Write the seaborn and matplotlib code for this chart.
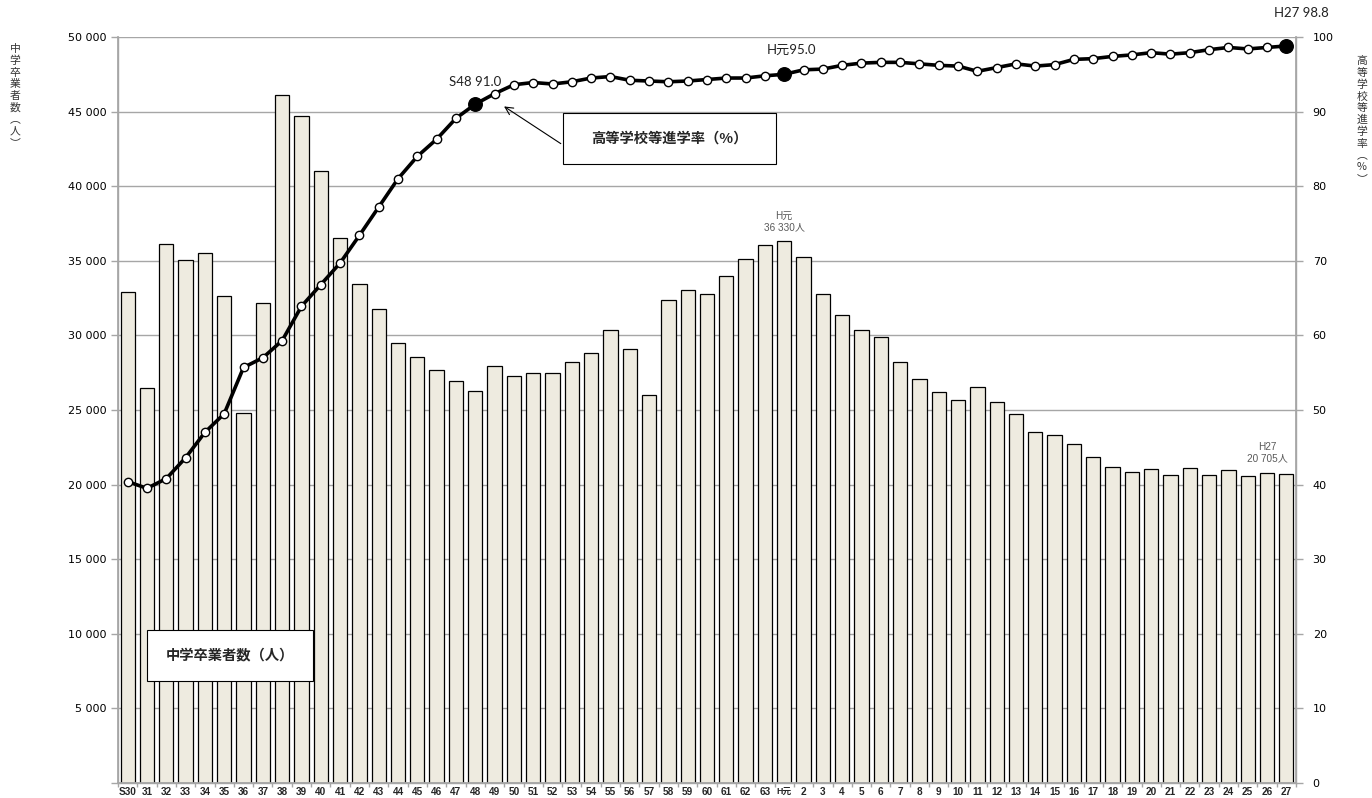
import numpy as np
import pandas as pd
import matplotlib
matplotlib.use("Agg")
import matplotlib.pyplot as plt
import seaborn as sns
from matplotlib.ticker import FuncFormatter, MultipleLocator, FixedLocator
from matplotlib.patches import Rectangle

# ---------------- data ----------------
years = ["S30", "31", "32", "33", "34", "35", "36", "37", "38", "39",
         "40", "41", "42", "43", "44", "45", "46", "47", "48", "49",
         "50", "51", "52", "53", "54", "55", "56", "57", "58", "59",
         "60", "61", "62", "63", "H元", "2", "3", "4", "5", "6",
         "7", "8", "9", "10", "11", "12", "13", "14", "15", "16",
         "17", "18", "19", "20", "21", "22", "23", "24", "25", "26", "27"]

graduates = [32900, 26500, 36100, 35050, 35550, 32650, 24800, 32200, 46100, 44700,
             41050, 36500, 33450, 31800, 29500, 28550, 27650, 26950, 26250, 27950,
             27300, 27450, 27500, 28250, 28800, 30350, 29100, 26000, 32400, 33050,
             32750, 34000, 35100, 36050, 36330, 35250, 32750, 31350, 30350, 29900,
             28200, 27100, 26200, 25700, 26550, 25550, 24700, 23550, 23350, 22750,
             21850, 21200, 20850, 21050, 20650, 21100, 20650, 21000, 20550, 20800, 20705]

rate = [40.4, 39.5, 40.8, 43.6, 47.0, 49.5, 55.7, 57.0, 59.3, 63.9,
        66.8, 69.7, 73.4, 77.2, 81.0, 84.0, 86.3, 89.1, 91.0, 92.4,
        93.6, 93.9, 93.7, 94.0, 94.5, 94.7, 94.2, 94.1, 94.0, 94.1,
        94.3, 94.5, 94.5, 94.8, 95.0, 95.6, 95.7, 96.2, 96.5, 96.6,
        96.6, 96.4, 96.2, 96.1, 95.4, 95.9, 96.4, 96.1, 96.3, 97.0,
        97.1, 97.4, 97.6, 97.9, 97.7, 97.9, 98.3, 98.6, 98.4, 98.6, 98.8]

highlight_years = ["48", "H元", "27"]
highlight_labels = ["S48 91.0", "H元95.0", "H27 98.8"]

# ---------------- style ----------------
sns.set_theme(style="white")
CJK = "Noto Sans CJK JP"
plt.rcParams["font.family"] = ["DejaVu Sans", CJK]

W, H = 1372, 798
fig = plt.figure(figsize=(W / 100, H / 100), dpi=100)
L, R, T, B = 118, 1296, 37, 783
ax = fig.add_axes([L / W, (H - B) / H, (R - L) / W, (B - T) / H])

df = pd.DataFrame({"year": years, "graduates": graduates, "rate": rate})
n = len(df)

sns.barplot(data=df, x="year", y="graduates", color="#EEEBE0", saturation=1,
            edgecolor="black", linewidth=0.9, width=0.74, ax=ax)

ax.set_xlim(-0.5, n - 0.5)
ax.set_ylim(0, 50000)
ax.yaxis.set_major_locator(MultipleLocator(5000))
ax.yaxis.set_major_formatter(FuncFormatter(
    lambda v, p: "" if v == 0 else f"{int(v):,}".replace(",", " ")))
ax.yaxis.grid(True, color="#A6A6A6", lw=1)
ax.set_axisbelow(True)
ax.set_xlabel("")
ax.set_ylabel("")

ax.spines["top"].set_visible(False)
for s in ["left", "right", "bottom"]:
    ax.spines[s].set_color("#A6A6A6")
    ax.spines[s].set_linewidth(1)

ax.tick_params(axis="y", which="major", direction="out", length=5, width=1,
               color="#A6A6A6", labelsize=8, labelcolor="black", pad=3, left=True)
ax.set_xticks(np.arange(n))
ax.set_xticklabels(years)
ax.tick_params(axis="x", which="major", length=0, pad=3)
ax.xaxis.set_minor_locator(FixedLocator(np.arange(n + 1) - 0.5))
ax.tick_params(axis="x", which="minor", direction="out", length=3, width=1,
               color="#A6A6A6", bottom=True)
for lab in ax.get_xticklabels():
    lab.set_fontfamily(["Liberation Sans", CJK])
    lab.set_fontweight("bold")
    lab.set_fontsize(7.2 if lab.get_text() != "H元" else 6.3)

# ---------------- line on secondary axis ----------------
ax2 = ax.twinx()
x_pos = np.arange(n)
sns.lineplot(x=x_pos, y=df["rate"].values, ax=ax2, color="black", lw=2.6,
             marker="o", markersize=6, markerfacecolor="white",
             markeredgecolor="black", markeredgewidth=1.0, zorder=3)
hi_idx = [years.index(y) for y in highlight_years]
ax2.scatter(hi_idx, [rate[i] for i in hi_idx], s=95, color="black", zorder=4)

ax2.set_xlim(-0.5, n - 0.5)
ax2.set_ylim(0, 100)
ax2.yaxis.set_major_locator(MultipleLocator(10))
ax2.set_ylabel("")
ax2.set_xlabel("")
ax2.spines["top"].set_visible(False)
for s in ["left", "right", "bottom"]:
    ax2.spines[s].set_color("#A6A6A6")
ax2.tick_params(axis="y", direction="out", length=5, width=1, color="#A6A6A6",
                labelsize=8, labelcolor="black", pad=7, right=True)

lab_font = ["Lato", CJK]
ax2.text(18, 94.0, highlight_labels[0], ha="center", va="center",
         fontsize=9.5, family=lab_font, color="#222222")
ax2.text(34.35, 98.3, highlight_labels[1], ha="center", va="center",
         fontsize=9.5, family=lab_font, color="#222222")
ax2.text(60.8, 103.2, highlight_labels[2], ha="center", va="center",
         fontsize=9.5, family=lab_font, color="#222222", clip_on=False)

ax.text(34, 37650, "H元\n36 330人", ha="center", va="center", fontsize=7.2,
        family=["Liberation Sans", CJK], color="#595959", linespacing=1.15)
ax.text(59, 22150, "H27\n20 705人", ha="center", va="center", fontsize=7.2,
        family=["Liberation Sans", CJK], color="#595959", linespacing=1.15)


def fx(px):
    return (px - L) / (R - L)


def fy(py):
    return (B - py) / (B - T)


def box(x0, y0, x1, y1, text):
    r = Rectangle((x0, y0), x1 - x0, y1 - y0, transform=ax2.transAxes,
                  facecolor="white", edgecolor="black", lw=0.8, zorder=6)
    ax2.add_patch(r)
    ax2.text((x0 + x1) / 2, (y0 + y1) / 2, text, transform=ax2.transAxes,
             ha="center", va="center", fontsize=10.3, fontweight="bold",
             family=[CJK, "DejaVu Sans"], zorder=7)


box(fx(563), fy(164), fx(776), fy(113), "高等学校等進学率（%）")
box(fx(147), fy(681), fx(313), fy(630), "中学卒業者数（人）")

ax2.annotate("", xy=(19.37, 90.9), xytext=(22.55, 85.5),
             arrowprops=dict(arrowstyle="->", color="black", lw=0.8,
                             mutation_scale=14), zorder=6)

fig.text(15 / W, 1 - 44 / H, "\n".join("中学卒業者数︵人︶"), ha="center", va="top",
         fontsize=7.8, family=[CJK], linespacing=1.2, color="#333333")
fig.text(1362 / W, 1 - 56 / H, "\n".join("高等学校等進学率︵%︶"), ha="center", va="top",
         fontsize=7.8, family=[CJK], linespacing=1.2, color="#333333")

fig.savefig("out.png", dpi=100)
